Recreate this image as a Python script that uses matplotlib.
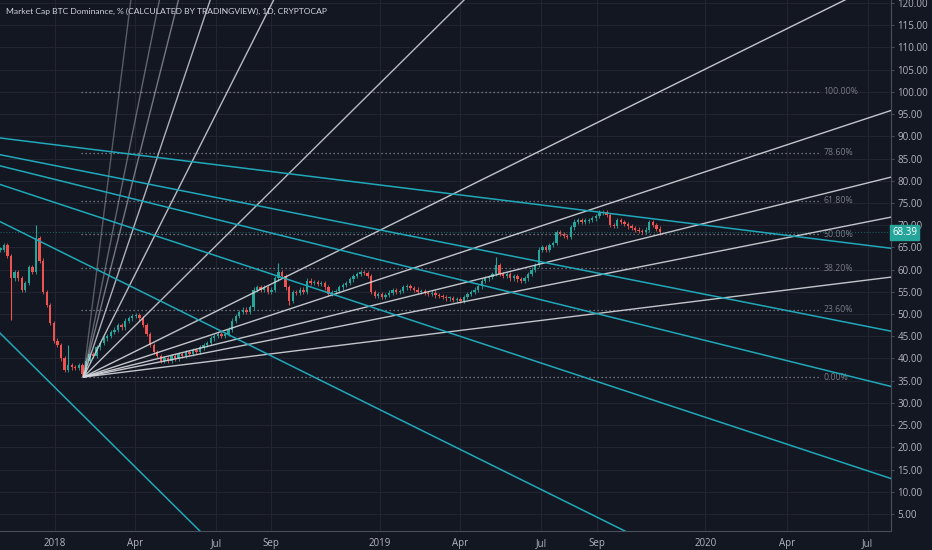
import numpy as np
import matplotlib
matplotlib.use("Agg")
import matplotlib.pyplot as plt

BASE = np.datetime64("2018-01-01")


def day(s):
    return float((np.datetime64(s) - BASE).astype(int))


# ---------------- data ----------------
candle_start = "2017-11-01"
candle_step_days = 4
closes = [
    64.5, 65.5, 63.0, 58.0, 59.5, 58.0, 55.5, 57.0, 60.5, 59.5,
    67.0, 62.0, 55.0, 52.0, 48.0, 44.0, 43.0, 40.0, 37.5, 38.5,
    38.0, 37.8, 38.5, 36.5, 39.5, 41.0, 40.5, 42.5, 43.5, 44.5,
    45.0, 46.0, 46.5, 47.5, 47.0, 48.5, 49.0, 49.5, 49.8, 49.0,
    47.5, 45.5, 43.0, 41.5, 40.5, 39.5, 40.0, 39.5, 40.5, 40.0,
    41.0, 40.5, 41.5, 41.0, 41.8, 41.5, 42.5, 43.0, 43.5, 44.5,
    45.0, 45.5, 45.0, 45.5, 46.5, 48.5, 49.5, 50.5, 51.0, 50.5,
    51.5, 55.5, 56.0, 55.5, 56.0, 55.0, 55.5, 58.0, 59.5, 58.5,
    56.0, 53.0, 55.0, 54.8, 55.5, 55.0, 57.5, 57.0, 57.2, 56.8,
    57.0, 56.0, 54.5, 55.0, 55.2, 56.0, 56.5, 57.0, 57.8, 58.5,
    59.0, 59.5, 59.2, 58.5, 55.0, 54.0, 54.5, 53.8, 54.3, 54.8,
    55.3, 55.0, 55.2, 56.0, 56.3, 55.8, 55.5, 55.0, 55.2, 54.7,
    54.5, 54.8, 54.2, 54.0, 53.8, 53.5, 53.6, 53.2, 53.4, 53.0,
    53.8, 54.5, 55.0, 55.5, 56.2, 57.5, 58.0, 58.3, 59.0, 61.0,
    59.0, 58.5, 59.0, 58.0, 58.5, 57.8, 57.5, 58.0, 59.0, 60.0,
    61.0, 64.5, 65.0, 64.5, 65.5, 66.0, 68.5, 68.0, 67.5, 67.3,
    69.5, 70.8, 71.2, 70.8, 71.0, 71.2, 71.5, 72.0, 72.8, 73.0,
    72.3, 70.0, 69.8, 71.2, 70.7, 70.2, 69.7, 69.3, 69.0, 68.7,
    68.5, 69.0, 70.6, 70.0, 69.2, 68.39,
]
spike_dates = ["2017-11-13", "2017-12-11", "2018-01-16", "2018-09-09",
               "2018-09-21", "2019-05-11"]
spike_values = [48.6, 70.0, 43.0, 61.5, 52.0, 62.8]

fib_ratios = [0.0, 0.236, 0.382, 0.5, 0.618, 0.786, 1.0]
fib_labels = ["0.00%", "23.60%", "38.20%", "50.00%", "61.80%", "78.60%", "100.00%"]
fib_low, fib_high = 35.8, 100.0
fib_start, fib_end = "2018-01-31", "2020-05-09"

fan_up_ratios = [1 / 8, 1 / 5, 1 / 4, 1 / 3, 1 / 2, 1, 2, 3, 4, 5, 8]
fan_up_alpha = [0.9, 0.9, 0.9, 0.9, 0.9, 0.85, 0.85, 0.8, 0.5, 0.4, 0.35]
fan_up_origin = ("2018-02-02", 35.8)
fan_down_ratios = [1 / 8, 1 / 5, 1 / 4, 1 / 3, 1 / 2, 1]
fan_down_origin = ("2017-02-21", 95.9)
fan_unit = 0.1987  # value per day of the 1x1 line

last_price = 68.39
title = "Market Cap BTC Dominance, % (CALCULATED BY TRADINGVIEW), 1D, CRYPTOCAP"

xtick_dates = ["2018-01-01", "2018-04-01", "2018-07-01", "2018-09-01",
               "2019-01-01", "2019-04-01", "2019-07-01", "2019-09-01",
               "2020-01-01", "2020-04-01", "2020-07-01"]
xtick_labels = ["2018", "Apr", "Jul", "Sep", "2019", "Apr", "Jul", "Sep",
                "2020", "Apr", "Jul"]
ytick_values = list(range(5, 121, 5))

# ---------------- style ----------------
BG = "#131722"
GRID = "#222531"
TXT = "#b2b5be"
UP = "#26a69a"
DOWN = "#ef5350"
CYAN = "#20a8b9"
WHITE = "#d6d8de"

plt.rcParams["font.family"] = ["Open Sans", "DejaVu Sans"]

fig = plt.figure(figsize=(9.32, 5.5), dpi=100, facecolor=BG)
ax = fig.add_axes([0.0, 19 / 550, 891 / 932, 531 / 550])
ax.set_facecolor(BG)

x0 = day("2018-01-01") - 61.4
x1 = day("2018-01-01") + 938.1
ax.set_xlim(x0, x1)
ax.set_ylim(1.16, 120.68)

# grid
for d in xtick_dates:
    ax.axvline(day(d), color=GRID, lw=0.8, zorder=0)
for v in ytick_values:
    ax.axhline(v, color=GRID, lw=0.8, zorder=0)

# candles
cd = day(candle_start) + np.arange(len(closes)) * candle_step_days
opens = [closes[0]] + closes[:-1]
for d, o, c in zip(cd, opens, closes):
    col = UP if c >= o else DOWN
    lo, hi = min(o, c), max(o, c)
    ax.vlines(d, lo - 0.5, hi + 0.5, color=col, lw=0.6, zorder=3)
    ax.bar(d, max(hi - lo, 0.25), bottom=lo, width=2.6, color=col,
           edgecolor=col, lw=0, zorder=3)
for sd, sv in zip(spike_dates, spike_values):
    sdd = day(sd)
    i = int(np.argmin(np.abs(cd - sdd)))
    o, c = opens[i], closes[i]
    col = UP if c >= o else DOWN
    ref = max(o, c) if sv > max(o, c) else min(o, c)
    ax.vlines(cd[i], min(ref, sv), max(ref, sv), color=col, lw=0.8, zorder=3)

# fib levels
fs, fe = day(fib_start), day(fib_end)
for r, lab in zip(fib_ratios, fib_labels):
    v = fib_low + r * (fib_high - fib_low)
    ax.plot([fs, fe], [v, v], color="#8a8d96", lw=0.9,
            linestyle=(0, (1, 2.2)), zorder=2)
    ax.text(fe + 3.5, v, lab, color="#787b86", fontsize=6.3,
            va="center", ha="left", zorder=2)

# gann fans
od, ov = day(fan_up_origin[0]), fan_up_origin[1]
far = 3000
for r, a in zip(fan_up_ratios, fan_up_alpha):
    ax.plot([od, od + far], [ov, ov + r * fan_unit * far], color=WHITE,
            lw=1.0, alpha=a, zorder=4, solid_capstyle="butt")
cdn, cvn = day(fan_down_origin[0]), fan_down_origin[1]
for r in fan_down_ratios:
    ax.plot([cdn, cdn + far], [cvn, cvn - r * fan_unit * far], color=CYAN,
            lw=1.1, zorder=4, solid_capstyle="butt")

# last price line
ax.axhline(last_price, color=UP, lw=0.7, alpha=0.55,
           linestyle=(0, (1, 2)), zorder=2)

# axes styling
for s in ["top", "left"]:
    ax.spines[s].set_visible(False)
ax.spines["right"].set_color("#4a4e5a")
ax.spines["bottom"].set_color("#4a4e5a")
ax.spines["right"].set_linewidth(0.8)
ax.spines["bottom"].set_linewidth(0.8)

ax.yaxis.tick_right()
ax.set_yticks(ytick_values)
ax.set_yticklabels(["%.2f" % v for v in ytick_values])
ax.set_xticks([day(d) for d in xtick_dates])
ax.set_xticklabels(xtick_labels)
ax.tick_params(axis="y", colors="#4a4e5a", labelcolor=TXT, labelsize=7,
               length=2.5, width=0.7, pad=2)
ax.tick_params(axis="x", colors="#4a4e5a", labelcolor=TXT, labelsize=7,
               length=0, pad=5)

# price label box
ax.text(1.0015, last_price, "%.2f" % last_price, transform=ax.get_yaxis_transform(),
        color="white", fontsize=7, va="center", ha="left", zorder=10,
        bbox=dict(boxstyle="square,pad=0.22", fc=UP, ec=UP), clip_on=False)

# title
fig.text(6 / 932, 1 - 11 / 550, title, color="#d1d4dc", fontsize=6.1,
         family=["Lato", "DejaVu Sans"], va="center", ha="left")

fig.savefig("out.png", dpi=100, facecolor=BG)
